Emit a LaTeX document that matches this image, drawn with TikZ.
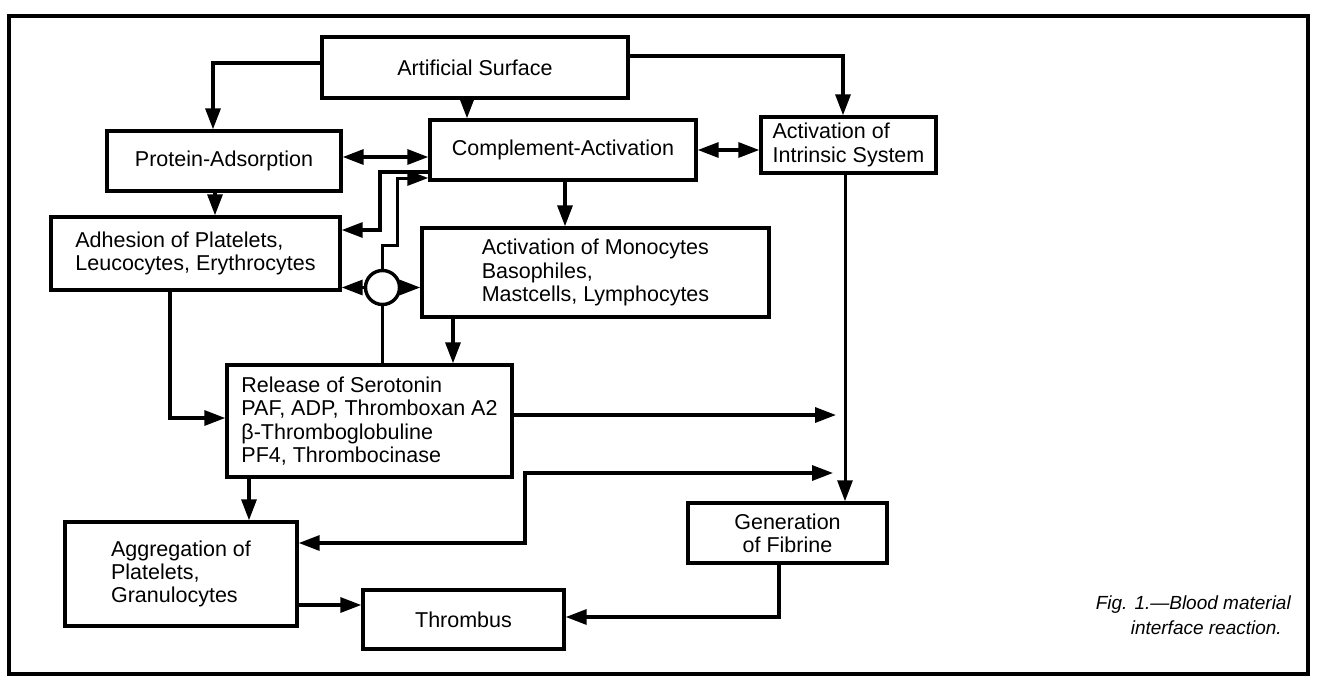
\documentclass[tikz,border=0pt]{standalone}
\usepackage{fontspec}
\setmainfont{Liberation Sans}
\usetikzlibrary{arrows.meta}
\begin{document}
\begin{tikzpicture}[x=1pt,y=-1pt,
  blk/.style={draw, line width=3.4pt, rectangle, inner sep=0pt, font=\fontsize{21.5}{23.3}\selectfont, align=center},
  lblk/.style={blk, align=left},
  tip/.tip={Triangle[length=21pt,width=15pt]},
  arr/.style={line width=3.3pt, -tip},
  darr/.style={line width=3.3pt, tip-tip},
  thinarr/.style={line width=3pt, -tip},
  thinline/.style={line width=2.5pt},
  capt/.style={font=\fontsize{19}{23}\selectfont\itshape, anchor=east, inner sep=0pt}
]
\useasboundingbox (0,0) rectangle (1318,678);
% frame
\draw[line width=3.6pt] (9,16) rectangle (1308,674);

% boxes
\node[blk, minimum width=306pt, minimum height=61pt] (A) at (475,67.5) {Artificial Surface};
\node[blk, minimum width=234pt, minimum height=60pt] (P) at (224,161) {Protein-Adsorption};
\node[blk, minimum width=266pt, minimum height=60pt] (C) at (563,150) {Complement-Activation};
\node[lblk, minimum width=175pt, minimum height=56pt] (I) at (848.5,145) {Activation of\\Intrinsic System};
\node[lblk, minimum width=289pt, minimum height=73pt] (H) at (195.5,253.5) {Adhesion of Platelets,\\Leucocytes, Erythrocytes};
\node[lblk, minimum width=347pt, minimum height=89pt] (M) at (595.5,272.5) {Activation of Monocytes\\Basophiles,\\Mastcells, Lymphocytes};
\node[draw, circle, line width=3.4pt, minimum size=34pt, inner sep=0pt] (K) at (382.5,287.5) {};
\node[lblk, minimum width=285pt, minimum height=112pt] (R) at (369.5,421) {Release of Serotonin\\PAF, ADP, Thromboxan A2\\β-Thromboglobuline\\PF4, Thrombocinase};
\node[lblk, minimum width=232pt, minimum height=104pt] (G) at (181,574) {Aggregation of\\Platelets,\\Granulocytes};
\node[blk, minimum width=201pt, minimum height=59pt] (T) at (463.5,619.5) {Thrombus};
\node[blk, minimum width=199pt, minimum height=60pt] (F) at (787.5,533) {Generation\\of Fibrine};

% caption
\node[capt] (cap1) at (1291,605) {Fig. 1.—Blood material};
\node[capt] (cap2) at (1282,628) {interface reaction.};

% helper coordinates
\coordinate (a1) at (213,63);
\coordinate (a2) at (467,0);
\coordinate (a3) at (843,56);
\coordinate (b1) at (0,157);
\coordinate (b2) at (0,150);
\coordinate (c1) at (215,0);
\coordinate (c2) at (565,0);
\coordinate (o1) at (380,172);
\coordinate (o2) at (380,230);
\coordinate (i1) at (397,245);
\coordinate (i2) at (0,178);
\coordinate (m1) at (453,0);
\coordinate (d1) at (170,418);
\coordinate (e1) at (836,415);
\coordinate (r1) at (249,0);
\coordinate (f1) at (0,543);
\coordinate (f2) at (525,473);
\coordinate (f3) at (833,473);
\coordinate (g1) at (845,0);
\coordinate (h1) at (0,605);
\coordinate (j1) at (779,617);

% connectors
\draw[arr] (A.west |- a1) -| (P.north -| a1);
\draw[arr] (A.south -| a2) -- (C.north -| a2);
\draw[arr] (A.east |- a3) -| (I.north -| a3);
\draw[darr] (P.east |- b1) -- (C.west |- b1);
\draw[darr] (C.east |- b2) -- (I.west |- b2);
\draw[arr] (P.south -| c1) -- (H.north -| c1);
\draw[arr] (C.south -| c2) -- (M.north -| c2);
\draw[arr, line width=3.1pt] (C.west |- o1) -| (o2) -- (H.east |- o2);
\draw[arr, line width=3pt] (K.north) |- (i1) |- (C.west |- i2);
\draw[arr] (K.west) -- (H.east |- K.west);
\draw[arr] (K.east) -- (M.west |- K.east);
\draw[thinline] (K.south) -- (R.north -| K.south);
\draw[arr] (M.south -| m1) -- (R.north -| m1);
\draw[arr] (H.south -| d1) |- (R.west |- d1);
\draw[arr] (R.east |- e1) -- (e1);
\draw[arr] (R.south -| r1) -- (G.north -| r1);
\draw[darr] (G.east |- f1) -| (f2) -- (f3);
\draw[thinarr] (I.south -| g1) -- (F.north -| g1);
\draw[arr] (G.east |- h1) -- (T.west |- h1);
\draw[arr] (F.south -| j1) |- (T.east |- j1);
\end{tikzpicture}
\end{document}
